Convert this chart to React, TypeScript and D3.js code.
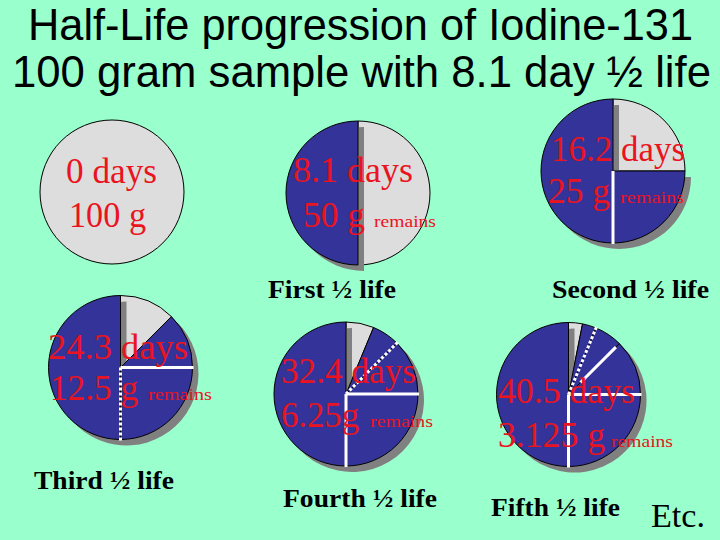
import React from "react";
import * as d3 from "d3";

// ---- data ----
const days = ["0", "8.1", "16.2", "24.3", "32.4", "40.5"];
const gramLabels = ["100 g", "50 g", "25 g", "12.5 g", "6.25g", "3.125 g"];
const remainingFraction = [1, 0.5, 0.25, 0.125, 0.0625, 0.03125];
const halfLifeLabels = ["", "First ½ life", "Second ½ life", "Third ½ life", "Fourth ½ life", "Fifth ½ life"];
const titleLines = ["Half-Life progression of Iodine-131", "100 gram sample with 8.1 day ½ life"];
// style of the white boundary lines between decayed slices, per pie (fraction of boundary, style)
const boundaryStyles: { frac: number; style: "solid" | "dotted" | "partial" }[][] = [
  [],
  [],
  [{ frac: 0.5, style: "solid" }],
  [{ frac: 0.25, style: "solid" }, { frac: 0.5, style: "dotted" }],
  [{ frac: 0.125, style: "dotted" }, { frac: 0.25, style: "solid" }, { frac: 0.5, style: "solid" }],
  [
    { frac: 0.0625, style: "dotted" },
    { frac: 0.125, style: "partial" },
    { frac: 0.25, style: "solid" },
    { frac: 0.5, style: "solid" },
  ],
];

// ---- layout ----
const W = 720, H = 540, R = 72;
const layout = [
  { cx: 112, cy: 192, dx: 66, dy: 183, dw: 91, gx: 69, gy: 227, gw: 77, rx: 0, rw: 0 },
  { cx: 358, cy: 193, dx: 293, dy: 182, dw: 120, gx: 303, gy: 227, gw: 62, rx: 374, rw: 62 },
  { cx: 613, cy: 171, dx: 551, dy: 161, dw: 134, gx: 548, gy: 203, gw: 62, rx: 620, rw: 64 },
  { cx: 120.5, cy: 367.5, dx: 48, dy: 359, dw: 140, gx: 50, gy: 400, gw: 88, rx: 148, rw: 64 },
  { cx: 346, cy: 394, dx: 281, dy: 383, dw: 135, gx: 281, gy: 427, gw: 78, rx: 370, rw: 63 },
  { cx: 568.5, cy: 394.5, dx: 498, dy: 403, dw: 137, gx: 498, gy: 447, gw: 107, rx: 611, rw: 62 },
];
const labelPos = [
  null,
  { x: 268, y: 298, w: 128 },
  { x: 552, y: 298, w: 157 },
  { x: 34, y: 489, w: 140 },
  { x: 283, y: 507, w: 154 },
  { x: 491, y: 516, w: 129 },
];

const BG = "#99ffcc";
const BLUE = "#333399";
const GREY = "#dddddd";
const SHADOW = "#808080";
const RED = "#ea1420";

const arc = d3.arc<{ startAngle: number; endAngle: number }>().innerRadius(0).outerRadius(R);
const angle = d3.scaleLinear().domain([0, 1]).range([0, 2 * Math.PI]);

function Pie({ i }: { i: number }) {
  const L = layout[i];
  const rem = remainingFraction[i];
  // decayed slices: [rem, 2rem], [2rem, 4rem], ... up to 1
  const slices: [number, number][] = [];
  let a = rem;
  while (a < 1 - 1e-9) {
    slices.push([a, Math.min(1, a * 2)]);
    a *= 2;
  }
  const greyPath = arc({ startAngle: 0, endAngle: angle(rem) }) as string;
  const shadowPath = rem < 1 ? (arc({ startAngle: angle(rem), endAngle: angle(1) }) as string) : null;
  return (
    <g transform={`translate(${L.cx},${L.cy})`}>
      <path d={greyPath} fill={GREY} stroke="#000" strokeWidth={1} />
      {shadowPath && <path d={shadowPath} fill={SHADOW} transform="translate(6,6)" />}
      {slices.map(([s, e], k) => (
        <path
          key={k}
          d={arc({ startAngle: angle(s), endAngle: angle(e) }) as string}
          fill={BLUE}
          stroke="#000"
          strokeWidth={1}
        />
      ))}
      {boundaryStyles[i].map((b, k) => {
        const t = angle(b.frac);
        const r0 = b.style === "partial" ? 17 : 0;
        const r1 = b.style === "partial" ? 67 : R + 1;
        return (
          <line
            key={k}
            x1={Math.sin(t) * r0}
            y1={-Math.cos(t) * r0}
            x2={Math.sin(t) * r1}
            y2={-Math.cos(t) * r1}
            stroke="#fff"
            strokeWidth={3}
            strokeDasharray={b.style === "dotted" ? "3,2" : undefined}
          />
        );
      })}
    </g>
  );
}

export default function App() {
  return (
    <svg width={W} height={H} style={{ position: "absolute", left: 0, top: 0, display: "block" }}>
      <rect width={W} height={H} fill={BG} />
      <text x={28} y={40} fontFamily="Liberation Sans, Arial, sans-serif" fontSize={43.5} textLength={665} lengthAdjust="spacingAndGlyphs">
        {titleLines[0]}
      </text>
      <text x={12} y={87} fontFamily="Liberation Sans, Arial, sans-serif" fontSize={43.5} textLength={699} lengthAdjust="spacingAndGlyphs">
        {titleLines[1]}
      </text>
      {layout.map((_, i) => (
        <Pie key={i} i={i} />
      ))}
      {layout.map((L, i) => (
        <g key={"t" + i} fontFamily="Liberation Serif, Times New Roman, serif" fill={RED}>
          <text x={L.dx} y={L.dy} fontSize={35} textLength={L.dw} lengthAdjust="spacingAndGlyphs">
            {days[i] + " days"}
          </text>
          <text x={L.gx} y={L.gy} fontSize={35} textLength={L.gw} lengthAdjust="spacingAndGlyphs">
            {gramLabels[i]}
          </text>
          {i > 0 && (
            <text x={L.rx} y={L.gy} fontSize={17} textLength={L.rw} lengthAdjust="spacingAndGlyphs">
              remains
            </text>
          )}
        </g>
      ))}
      {labelPos.map((p, i) =>
        p ? (
          <text
            key={"l" + i}
            x={p.x}
            y={p.y}
            fontFamily="Liberation Serif, Times New Roman, serif"
            fontWeight="bold"
            fontSize={25}
            textLength={p.w}
            lengthAdjust="spacingAndGlyphs"
          >
            {halfLifeLabels[i]}
          </text>
        ) : null
      )}
      <text x={651} y={527} fontFamily="Liberation Serif, Times New Roman, serif" fontSize={34} textLength={54} lengthAdjust="spacingAndGlyphs">
        Etc.
      </text>
    </svg>
  );
}
